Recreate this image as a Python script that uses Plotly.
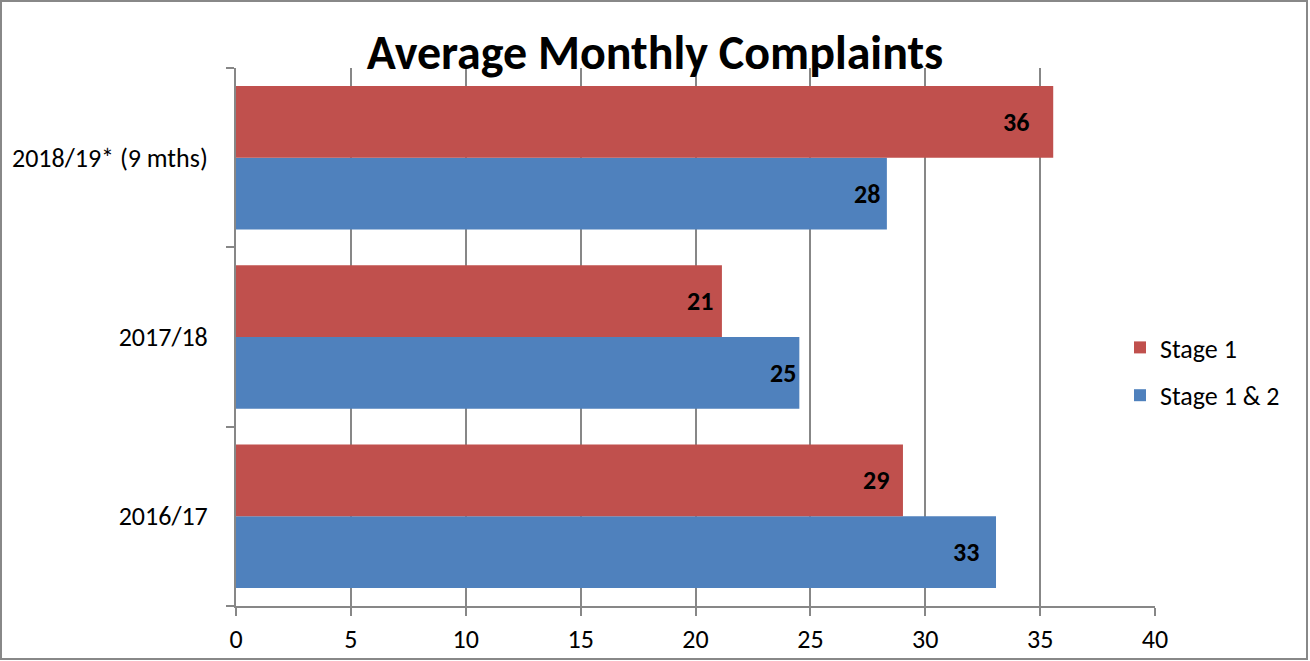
import plotly.graph_objects as go

categories = ["2016/17", "2017/18", "2018/19* (9 mths)"]
stage1 = [29.03, 21.15, 35.57]
stage12 = [33.08, 24.52, 28.33]
series_names = ["Stage 1", "Stage 1 & 2"]
x_ticks = [0, 5, 10, 15, 20, 25, 30, 35, 40]

# label offsets (px) from bar end, as placed in the reference
stage1_label_pad = [14, 9, 24]
stage12_label_pad = [17, 3, 7]

FONT = "Carlito, Calibri, Lato, sans-serif"
RED = "#C0504D"
BLUE = "#4F81BD"
GRID = "#878787"
FS = 26

W, H = 1310, 661
L, R, T, B = 236, 155, 68, 55

fig = go.Figure()
fig.add_trace(go.Bar(
    y=categories, x=stage12, orientation="h", name=series_names[1],
    marker=dict(color=BLUE, line=dict(width=0)),
    legendgroup="b", legendrank=2, hoverinfo="x+name",
))
fig.add_trace(go.Bar(
    y=categories, x=stage1, orientation="h", name=series_names[0],
    marker=dict(color=RED, line=dict(width=0)),
    legendgroup="a", legendrank=1, hoverinfo="x+name",
))

pw = W - L - R
ph = H - T - B
cat_px = ph / len(categories)
bar_px = cat_px * 0.8 / 2

annotations = []
for vals, pads, sign in ((stage1, stage1_label_pad, 1), (stage12, stage12_label_pad, -1)):
    for cat, v, pad in zip(categories, vals, pads):
        annotations.append(dict(
            x=v, y=cat, xref="x", yref="y", text=f"<b>{round(v + 1e-9):d}</b>", showarrow=False,
            xanchor="right", yanchor="middle", xshift=-(pad - 2), yshift=sign * bar_px / 2,
            font=dict(family=FONT, size=FS, color="black"),
        ))

fig.update_layout(
    width=W, height=H, autosize=False,
    margin=dict(l=L, r=R, t=T, b=B, pad=0, autoexpand=False),
    paper_bgcolor="white", plot_bgcolor="white",
    barmode="group", bargap=0.2, bargroupgap=0,
    font=dict(family=FONT, size=FS, color="black"),
    title=dict(text="<b>Average Monthly Complaints</b>", x=0.5, xanchor="center",
               y=1 - 52 / H, yanchor="middle", font=dict(family=FONT, size=48, color="black")),
    legend=dict(x=(1120 - L) / pw, xanchor="left", y=(T + ph - 371.5) / ph, yanchor="middle",
                traceorder="grouped", tracegroupgap=11,
                font=dict(family=FONT, size=FS, color="black"), bgcolor="rgba(0,0,0,0)"),
    xaxis=dict(range=[0, 40], tickvals=x_ticks, showgrid=True, gridcolor=GRID, gridwidth=2,
               showline=True, linecolor=GRID, linewidth=2, ticks="outside", ticklen=8,
               tickcolor=GRID, tickwidth=2, zeroline=False, fixedrange=True,
               ticklabelstandoff=1, automargin=False,
               tickfont=dict(family=FONT, size=FS, color="black")),
    yaxis=dict(type="category", categoryorder="array", categoryarray=categories,
               showline=True, linecolor=GRID, linewidth=2, ticks="outside", ticklen=8,
               tickcolor=GRID, tickwidth=2, tickson="boundaries", showgrid=False,
               ticklabelstandoff=21, fixedrange=True, automargin=False,
               tickfont=dict(family=FONT, size=FS, color="black")),
    annotations=annotations,
    shapes=[dict(type="rect", xref="paper", yref="paper",
                 x0=(1 - L) / pw, x1=(W - 3 - L) / pw,
                 y0=(T + ph - (H - 2)) / ph, y1=(T + ph - 1) / ph,
                 line=dict(color="#888888", width=2), fillcolor="rgba(0,0,0,0)", layer="below")],
)

fig.write_html("out.html", config={"displayModeBar": False},
               post_script="document.body.style.margin='0';")
